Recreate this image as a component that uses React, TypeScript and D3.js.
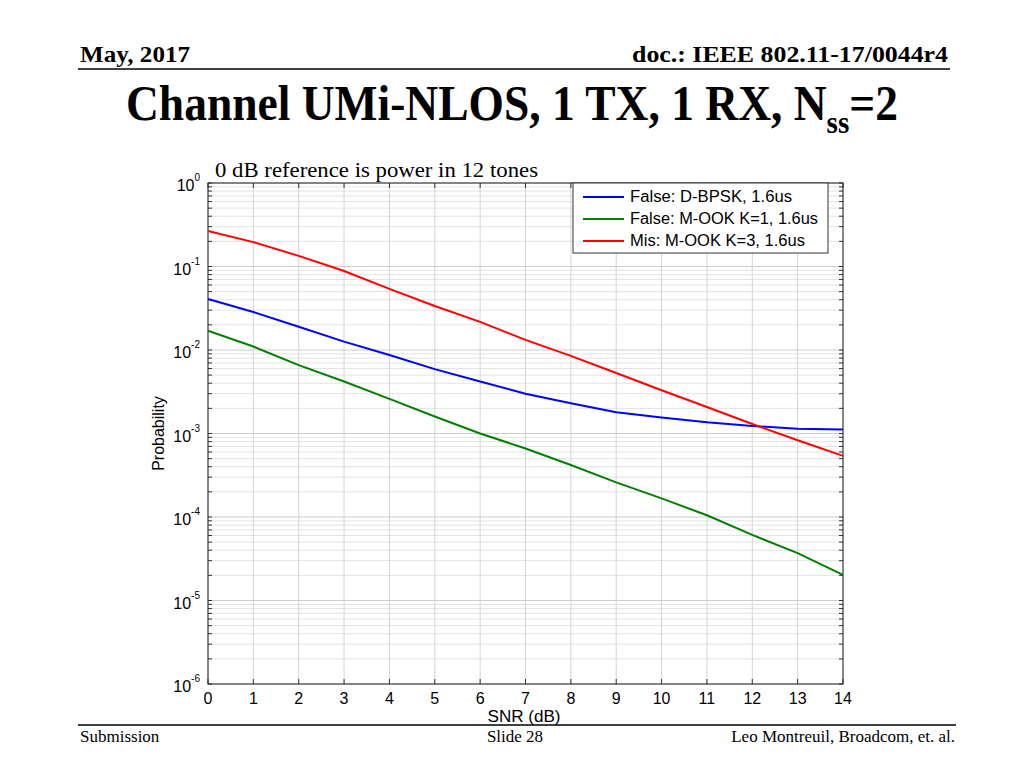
import React from 'react';
import * as d3 from 'd3';

const snr = [0, 1, 2, 3, 4, 5, 6, 7, 8, 9, 10, 11, 12, 13, 14];
const falseDbpsk = [0.0408, 0.0285, 0.019, 0.0126, 0.0087, 0.0059, 0.0042, 0.003, 0.0023, 0.0018, 0.00155, 0.00136, 0.00123, 0.00114, 0.00112];
const falseMook1 = [0.017, 0.011, 0.0066, 0.0042, 0.0026, 0.0016, 0.001, 0.00066, 0.00042, 0.00026, 0.000167, 0.000105, 0.000061, 0.000037, 0.0000203];
const misMook3 = [0.266, 0.196, 0.134, 0.0883, 0.054, 0.0336, 0.0217, 0.0132, 0.0085, 0.0053, 0.0033, 0.00208, 0.0013, 0.00083, 0.00054];
const seriesNames = ['False: D-BPSK, 1.6us', 'False: M-OOK K=1, 1.6us', 'Mis: M-OOK K=3, 1.6us'];
const legendWidths = [162, 188, 175];
const seriesColors = ['#0000ff', '#008000', '#ff0000'];
const decades = [0, -1, -2, -3, -4, -5, -6];

const serif = '"Liberation Serif", "Times New Roman", serif';
const sans = '"Liberation Sans", Arial, sans-serif';

const App = () => {
  const left = 208, right = 843, top = 183, bottom = 684;
  const x = d3.scaleLinear().domain([0, 14]).range([left, right]);
  const y = d3.scaleLog().domain([1e-6, 1]).range([bottom, top]);

  const series = [falseDbpsk, falseMook1, misMook3];
  const line = d3.line<number>().x((_, i) => x(snr[i])).y(d => y(d));

  const minor: number[] = [];
  decades.slice(1).forEach(e => {
    for (let m = 2; m <= 9; m++) minor.push(m * Math.pow(10, e));
  });

  return (
    <svg width={1024} height={768} style={{ position: 'absolute', left: 0, top: 0, background: '#fff' }}>
      {/* slide header */}
      <text x={80} y={62} fontFamily={serif} fontWeight="bold" fontSize={24} textLength={110} lengthAdjust="spacingAndGlyphs">May, 2017</text>
      <text x={948} y={62} textAnchor="end" fontFamily={serif} fontWeight="bold" fontSize={24} textLength={316} lengthAdjust="spacingAndGlyphs">doc.: IEEE 802.11-17/0044r4</text>
      <line x1={78} x2={950} y1={69} y2={69} stroke="#000" strokeWidth={1.5} />
      <g transform="translate(126,120) scale(0.91,1)">
        <text x={0} y={0} fontFamily={serif} fontWeight="bold" fontSize={50}>
          Channel UMi-NLOS, 1 TX, 1 RX, N
          <tspan fontSize={32} dy={13}>ss</tspan>
          <tspan dy={-13}>=2</tspan>
        </text>
      </g>
      <text x={215} y={177} fontFamily={serif} fontSize={22} textLength={323} lengthAdjust="spacingAndGlyphs">0 dB reference is power in 12 tones</text>

      {/* grid */}
      {minor.map((v, i) => (
        <line key={'mn' + i} x1={left} x2={right} y1={y(v)} y2={y(v)} stroke="#e2e2e2" strokeWidth={1} />
      ))}
      {decades.map(e => (
        <line key={'mj' + e} x1={left} x2={right} y1={y(Math.pow(10, e))} y2={y(Math.pow(10, e))} stroke="#cccccc" strokeWidth={1} />
      ))}
      {snr.map(s => (
        <line key={'gx' + s} x1={x(s)} x2={x(s)} y1={top} y2={bottom} stroke="#d4d4d4" strokeWidth={1} />
      ))}

      {/* ticks */}
      {snr.map(s => (
        <g key={'tx' + s}>
          <line x1={x(s)} x2={x(s)} y1={bottom} y2={bottom - 5} stroke="#333" />
          <line x1={x(s)} x2={x(s)} y1={top} y2={top + 5} stroke="#333" />
        </g>
      ))}
      {minor.concat(decades.map(e => Math.pow(10, e))).map((v, i) => (
        <g key={'ty' + i}>
          <line x1={left} x2={left + 4} y1={y(v)} y2={y(v)} stroke="#333" />
          <line x1={right} x2={right - 4} y1={y(v)} y2={y(v)} stroke="#333" />
        </g>
      ))}
      <rect x={left} y={top} width={right - left} height={bottom - top} fill="none" stroke="#222" strokeWidth={1} />

      {/* curves */}
      {series.map((s, i) => (
        <path key={'s' + i} d={line(s) || ''} fill="none" stroke={seriesColors[i]} strokeWidth={2} />
      ))}

      {/* tick labels */}
      {snr.map(s => (
        <text key={'lx' + s} x={x(s)} y={bottom + 20} textAnchor="middle" fontFamily={sans} fontSize={16}>{s}</text>
      ))}
      {decades.map(e => (
        <text key={'ly' + e} x={left - 8} y={y(Math.pow(10, e)) + 8} textAnchor="end" fontFamily={sans} fontSize={16}>
          10
          <tspan fontSize={10} dy={-10}>{e}</tspan>
        </text>
      ))}
      <text x={524} y={722} textAnchor="middle" fontFamily={sans} fontSize={16} textLength={73} lengthAdjust="spacingAndGlyphs">SNR (dB)</text>
      <text transform={`translate(164, ${y(1e-3)}) rotate(-90)`} textAnchor="middle" fontFamily={sans} fontSize={16}>Probability</text>

      {/* legend */}
      <rect x={573} y={183} width={255} height={70} fill="#fff" stroke="#333" strokeWidth={1} />
      {seriesNames.map((n, i) => (
        <g key={'lg' + i}>
          <line x1={583} x2={624} y1={197 + i * 22} y2={197 + i * 22} stroke={seriesColors[i]} strokeWidth={2} />
          <text x={630} y={202 + i * 22} fontFamily={sans} fontSize={16} textLength={legendWidths[i]} lengthAdjust="spacingAndGlyphs">{n}</text>
        </g>
      ))}

      {/* footer */}
      <line x1={78} x2={956} y1={725} y2={725} stroke="#000" strokeWidth={1.5} />
      <text x={80} y={742} fontFamily={serif} fontSize={17}>Submission</text>
      <text x={515} y={742} textAnchor="middle" fontFamily={serif} fontSize={17}>Slide 28</text>
      <text x={955} y={742} textAnchor="end" fontFamily={serif} fontSize={17}>Leo Montreuil, Broadcom, et. al.</text>
    </svg>
  );
};

export default App;
